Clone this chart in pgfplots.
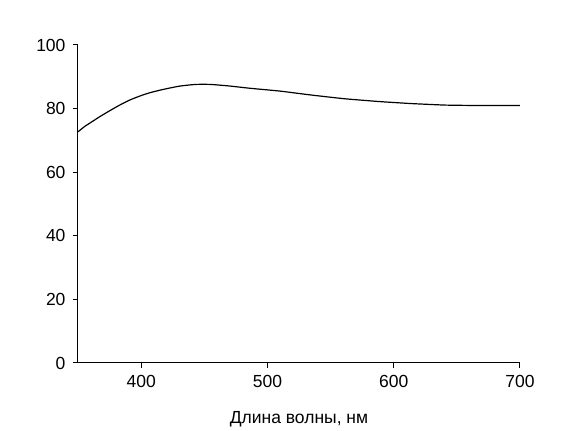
\documentclass[border=0pt]{standalone}
\usepackage{fontspec}
\setmainfont{Liberation Sans}
\usepackage{pgfplots}
\pgfplotsset{compat=1.18}
\begin{document}
\begin{tikzpicture}[x=1pt,y=1pt]
\useasboundingbox (0,0) rectangle (563,431);
\begin{axis}[
  at={(78pt,68pt)}, anchor=south west,
  scale only axis, width=442pt, height=318pt,
  xmin=350, xmax=700, ymin=0, ymax=100,
  axis x line=bottom, axis y line=left,
  axis line style={-, line width=1pt, black},
  xtick={400,500,600,700}, ytick={0,20,40,60,80,100},
  tick align=outside, major tick length=5pt,
  tick style={line width=1pt, black},
  /pgf/number format/assume math mode=true,
  /pgf/number format/1000 sep={},
  tick label style={font=\fontsize{17.5}{20}\selectfont},
  xticklabel style={yshift=-4pt},
  yticklabel style={xshift=-4pt},
  xlabel={Длина волны, нм},
  xlabel style={font=\fontsize{17.5}{20}\selectfont, yshift=-17pt},
]
\addplot[black, line width=1.2pt, smooth, tension=0.3] coordinates {
(350,72.7) (355,74.3) (360,75.6) (367,77.4) (375,79.3) (383,81.1) (391,82.7)
(400,84.1) (407,85.0) (415,85.8) (423,86.5) (431,87.1) (443,87.6) (455,87.6)
(470,87.1) (486,86.4) (510,85.5) (534,84.3) (561,83.1) (589,82.2) (613,81.6)
(629,81.3) (641,81.1) (660,81.0) (700,81.0)
};
\end{axis}
\end{tikzpicture}
\end{document}
